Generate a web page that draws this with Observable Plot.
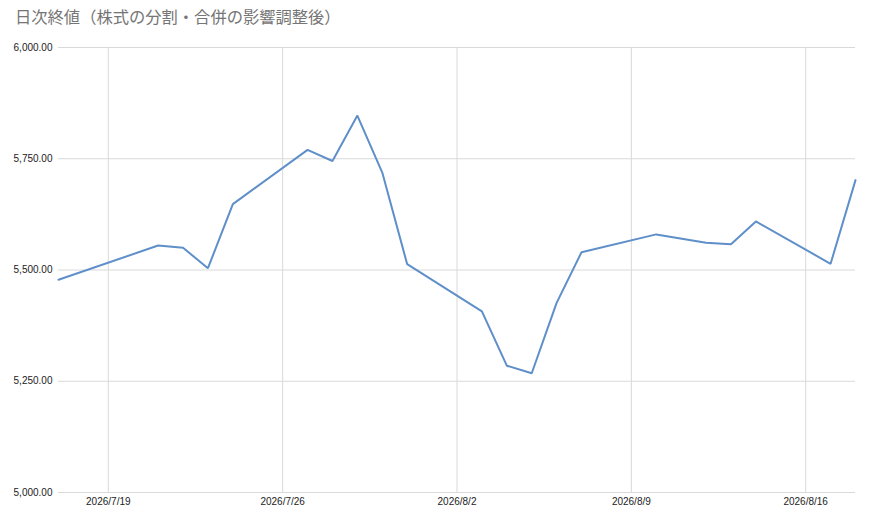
<!DOCTYPE html>
<html>
<head>
<meta charset="utf-8">
<script src="https://cdn.jsdelivr.net/npm/d3@7"></script>
<script src="https://cdn.jsdelivr.net/npm/@observablehq/plot@0.6"></script>
<style>
  html, body { margin: 0; padding: 0; background: #fff; }
  #title { height: 30px; line-height: 32px; padding-left: 15px; font-family: "Noto Sans CJK JP", "Liberation Sans", sans-serif; font-size: 16.3px; color: #757575; white-space: nowrap; }
  #chart svg { display: block; }
</style>
</head>
<body>
<div id="title">日次終値（株式の分割・合併の影響調整後）</div>
<div id="chart"></div>
<script>
const dates = [
  "2026-07-17", "2026-07-21", "2026-07-22", "2026-07-23", "2026-07-24",
  "2026-07-27", "2026-07-28", "2026-07-29", "2026-07-30", "2026-07-31",
  "2026-08-03", "2026-08-04", "2026-08-05", "2026-08-06", "2026-08-07",
  "2026-08-10", "2026-08-12", "2026-08-13", "2026-08-14",
  "2026-08-17", "2026-08-18"
];
const closes = [
  5478, 5555, 5550, 5504, 5648,
  5770, 5745, 5847, 5719, 5513,
  5407, 5285, 5268, 5426, 5540,
  5580, 5561, 5558, 5609,
  5514, 5702
];
const xTicks = ["2026-07-19", "2026-07-26", "2026-08-02", "2026-08-09", "2026-08-16"];
const yTicks = [5000, 5250, 5500, 5750, 6000];

const data = dates.map((d, i) => ({ date: new Date(d + "T00:00:00Z"), close: closes[i] }));
const xTickDates = xTicks.map(d => new Date(d + "T00:00:00Z"));
const fmtDate = d => `${d.getUTCFullYear()}/${d.getUTCMonth() + 1}/${d.getUTCDate()}`;
const fmtNum = d3.format(",.2f");

const chart = Plot.plot({
  width: 870,
  height: 490,
  marginTop: 17,
  marginBottom: 28,
  marginLeft: 58,
  marginRight: 15,
  style: { fontFamily: "'Liberation Sans', Arial, sans-serif", fontSize: "10px", color: "#222", background: "#fff" },
  x: { type: "utc", domain: [data[0].date, data[data.length - 1].date] },
  y: { domain: [5000, 6000] },
  marks: [
    Plot.gridX(xTickDates, { stroke: "#d9d9d9", strokeOpacity: 1, strokeWidth: 1 }),
    Plot.gridY(yTicks, { stroke: "#d9d9d9", strokeOpacity: 1, strokeWidth: 1 }),
    Plot.axisX(xTickDates, { tickSize: 0, tickPadding: 5, tickFormat: fmtDate, label: null, fill: "#222" }),
    Plot.axisY(yTicks, { tickSize: 0, tickPadding: 6, tickFormat: fmtNum, label: null, fill: "#222" }),
    Plot.line(data, { x: "date", y: "close", stroke: "#5f8fc9", strokeWidth: 2, strokeLinejoin: "miter" })
  ]
});
document.getElementById("chart").appendChild(chart);
</script>
</body>
</html>
